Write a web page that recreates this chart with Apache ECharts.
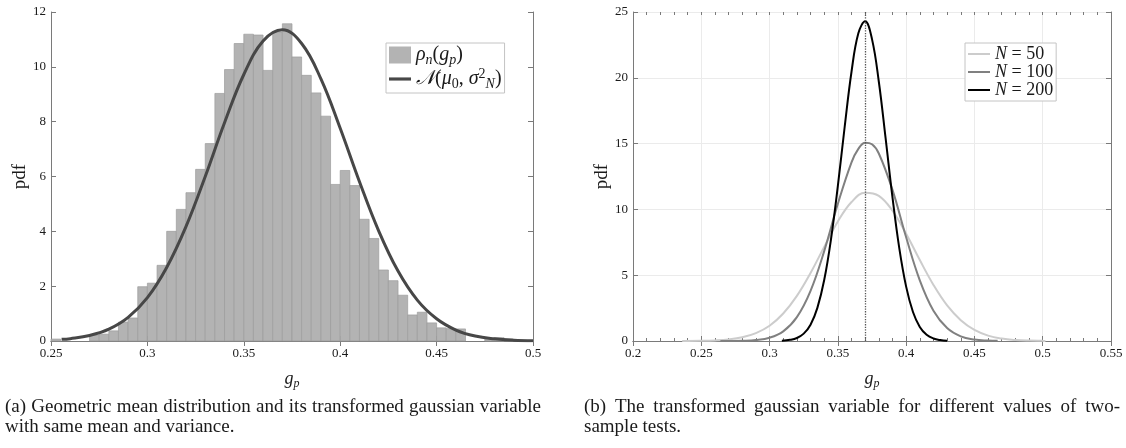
<!DOCTYPE html>
<html>
<head>
<meta charset="utf-8">
<script src="https://cdn.jsdelivr.net/npm/echarts@6/dist/echarts.min.js"></script>
<style>
html, body { margin: 0; padding: 0; background: #fff; }
#main { width: 1126px; height: 448px; }
</style>
</head>
<body>
<div id="main"></div>
<script>
var dom = document.getElementById("main");
var myChart = echarts.init(dom);

// (a) histogram: left edge of each bin and its height
var binWidth = 0.005;
var binStart = [0.250,0.255,0.260,0.265,0.270,0.275,0.280,0.285,0.290,0.295,
                0.300,0.305,0.310,0.315,0.320,0.325,0.330,0.335,0.340,0.345,
                0.350,0.355,0.360,0.365,0.370,0.375,0.380,0.385,0.390,0.395,
                0.400,0.405,0.410,0.415,0.420,0.425,0.430,0.435,0.440,0.445,
                0.450,0.455,0.460,0.465,0.470,0.475,0.480];
var binHeight = [0.07,0,0,0,0.22,0.25,0.37,0.69,0.84,1.98,
                 2.11,2.76,4.00,4.80,5.41,6.26,7.20,9.03,9.90,10.85,
                 11.19,11.16,9.87,11.27,11.57,10.36,9.69,9.05,8.20,5.71,
                 6.22,5.67,4.44,3.74,2.59,2.20,1.67,0.95,1.05,0.66,
                 0.48,0.45,0.44,0,0,0.10,0.12];

// (a) fitted gaussian curve
var gaussX = [0.2555,0.26,0.27,0.28,0.29,0.30,0.31,0.32,0.33,0.34,0.35,0.36,0.37,
              0.38,0.39,0.40,0.41,0.42,0.43,0.44,0.45,0.46,0.47,0.48,0.49,0.50];
var gaussY = [0.06,0.085,0.20,0.43,0.86,1.58,2.68,4.17,6.00,7.96,9.72,10.94,11.35,
              10.85,9.56,7.76,5.81,4.01,2.55,1.49,0.81,0.40,0.18,0.08,0.03,0.01];

// (b) curves for N = 50, 100, 200
var n50X = [0.236,0.25,0.26,0.27,0.28,0.29,0.30,0.31,0.32,0.33,0.34,0.35,0.36,0.37,
            0.38,0.39,0.40,0.41,0.42,0.43,0.44,0.45,0.46,0.47,0.48,0.49,0.50,0.502];
var n50Y = [0.004,0.017,0.047,0.12,0.28,0.60,1.16,2.09,3.43,5.17,7.15,9.08,10.56,11.27,
            11.03,9.90,8.15,6.15,4.26,2.70,1.58,0.84,0.41,0.185,0.076,0.029,0.01,0.008];
var n100X = [0.264,0.27,0.28,0.29,0.30,0.31,0.32,0.33,0.34,0.35,0.36,0.365,0.37,0.375,
             0.38,0.39,0.40,0.41,0.42,0.43,0.44,0.45,0.46,0.467];
var n100Y = [0.001,0.004,0.019,0.074,0.25,0.73,1.81,3.81,6.83,10.43,13.58,14.6,15.07,14.95,
             14.25,11.48,7.88,4.61,2.30,0.98,0.35,0.11,0.03,0.01];
var n200X = [0.309,0.315,0.32,0.325,0.33,0.335,0.34,0.345,0.35,0.355,0.36,0.365,0.37,
             0.375,0.38,0.385,0.39,0.395,0.40,0.405,0.41,0.415,0.42,0.425,0.43];
var n200Y = [0.02,0.09,0.23,0.56,1.24,2.52,4.63,7.75,11.78,16.28,20.46,23.38,24.29,
             22.94,19.70,15.37,10.91,7.04,4.13,2.20,1.07,0.47,0.19,0.07,0.02];
var meanLine = 0.366;

var captionA = ['(a) Geometric mean distribution and its transformed gaussian variable',
                'with same mean and variance.'];
var captionB = ['(b) The transformed gaussian variable for different values of two-',
                'sample tests.'];

////////////////////////////////////////

var FONT = '"Liberation Serif", "DejaVu Serif", serif';
var AXIS_COLOR = '#7a7a7a';
var TEXT_COLOR = '#1a1a1a';

function zip(xs, ys) {
    return xs.map(function (x, i) { return [x, ys[i]]; });
}

// rich text styles for math-like labels
function makeRich(size, lineHeight) {
    var small = Math.round(size * 0.68);
    return {
        i: { fontFamily: FONT, fontStyle: 'italic', fontSize: size, color: TEXT_COLOR, lineHeight: lineHeight },
        r: { fontFamily: FONT, fontSize: size, color: TEXT_COLOR, lineHeight: lineHeight },
        sub: { fontFamily: FONT, fontStyle: 'italic', fontSize: small, color: TEXT_COLOR, lineHeight: small, verticalAlign: 'bottom' },
        subr: { fontFamily: FONT, fontSize: small, color: TEXT_COLOR, lineHeight: small, verticalAlign: 'bottom' },
        sup: { fontFamily: FONT, fontSize: small, color: TEXT_COLOR, lineHeight: small, verticalAlign: 'top' }
    };
}
var richAxis = makeRich(18, 22);
var richA = makeRich(20, 24);
var richB = makeRich(18, 19);

var legendText = {
    hist: '{i|ρ}{sub|n}{r|(}{i|g}{sub|p}{r|)}',
    gauss: '{i|𝒩}{r|(}{i|μ}{subr|0}{r|, }{i|σ}{sup|2}{sub|N}{r|)}',
    N50: '{i|N}{r| = 50}',
    N100: '{i|N}{r| = 100}',
    N200: '{i|N}{r| = 200}'
};

var tickStyle = { show: true, inside: true, length: 5, lineStyle: { color: AXIS_COLOR } };

// bottom axis with labels + top mirror axis (box look)
function xAxisPair(grid, min, max, split) {
    var base = {
        gridIndex: grid,
        type: 'value',
        min: min,
        max: max,
        interval: 0.05,
        axisLine: { show: true, lineStyle: { color: AXIS_COLOR, width: 1 } },
        axisTick: tickStyle,
        splitLine: { show: split, lineStyle: { color: '#ebebeb' } }
    };
    var bottom = echarts.util.merge({
        position: 'bottom',
        axisLabel: { color: TEXT_COLOR, fontFamily: FONT, fontSize: 13, margin: 6 },
        name: '{i|g}{sub|p}',
        nameLocation: 'middle',
        nameGap: 27,
        nameTextStyle: { rich: richAxis }
    }, base, false);
    var top = echarts.util.merge({
        position: 'top',
        axisLabel: { show: false },
        splitLine: { show: false }
    }, base, false);
    return [bottom, top];
}

// small ticks every 0.01, drawn only as inward ticks
function minorXAxis(grid, min, max, position) {
    return {
        gridIndex: grid,
        type: 'value',
        position: position,
        offset: 0,
        min: min,
        max: max,
        interval: 0.01,
        axisLine: { show: false },
        axisTick: { show: true, inside: true, length: 3, lineStyle: { color: AXIS_COLOR } },
        axisLabel: { show: false },
        splitLine: { show: false }
    };
}

function yAxisPair(grid, max, interval, split) {
    var base = {
        gridIndex: grid,
        type: 'value',
        min: 0,
        max: max,
        interval: interval,
        axisLine: { show: true, lineStyle: { color: AXIS_COLOR, width: 1 } },
        axisTick: tickStyle,
        splitLine: { show: split, lineStyle: { color: '#ebebeb' } }
    };
    var left = echarts.util.merge({
        position: 'left',
        axisLabel: { color: TEXT_COLOR, fontFamily: FONT, fontSize: 13, margin: 5 },
        name: 'pdf',
        nameLocation: 'middle',
        nameRotate: 90,
        nameGap: 19,
        nameTextStyle: { color: TEXT_COLOR, fontFamily: FONT, fontSize: 19 }
    }, base, false);
    var right = echarts.util.merge({
        position: 'right',
        axisLabel: { show: false },
        splitLine: { show: false }
    }, base, false);
    return [left, right];
}

var xA = xAxisPair(0, 0.25, 0.5, false);
var xB = xAxisPair(1, 0.2, 0.55, true);
var yA = yAxisPair(0, 12, 2, false);
var yB = yAxisPair(1, 25, 5, true);

function legendBox(names, left, itemWidth, itemHeight, rich) {
    return {
        data: names,
        orient: 'vertical',
        left: left,
        top: 43,
        itemWidth: itemWidth,
        itemHeight: itemHeight,
        itemGap: 0,
        padding: [2, 3, 2, 3],
        borderColor: '#c4c4c4',
        borderWidth: 1,
        borderRadius: 0,
        backgroundColor: '#fff',
        selectedMode: false,
        textStyle: { rich: rich },
        formatter: function (name) { return legendText[name]; }
    };
}

// captions: first lines are justified to the column width, like the paper
var CAPTION_FONT = '19px ' + FONT;
var COLUMN_WIDTH = 536;
var measureCtx = document.createElement('canvas').getContext('2d');
measureCtx.font = CAPTION_FONT;

function captionLine(text, x, y, justify) {
    var style = { font: CAPTION_FONT, fill: TEXT_COLOR, verticalAlign: 'top' };
    if (!justify) {
        return [{ type: 'text', x: x, y: y, style: echarts.util.extend({ text: text }, style) }];
    }
    var words = text.split(' ');
    var widths = words.map(function (w) { return measureCtx.measureText(w).width; });
    var total = widths.reduce(function (a, b) { return a + b; }, 0);
    var gap = (COLUMN_WIDTH - total) / (words.length - 1);
    var out = [];
    var cx = x;
    words.forEach(function (w, i) {
        out.push({ type: 'text', x: cx, y: y, style: echarts.util.extend({ text: w }, style) });
        cx += widths[i] + gap;
    });
    return out;
}

var captions = [].concat(
    captionLine(captionA[0], 5, 398, true),
    captionLine(captionA[1], 5, 418, false),
    captionLine(captionB[0], 584, 398, true),
    captionLine(captionB[1], 584, 418, false)
);

var option = {
    animation: false,
    backgroundColor: '#fff',
    grid: [
        { left: 51, right: 593, top: 12, bottom: 107 },
        { left: 633, right: 15, top: 12, bottom: 107 }
    ],
    xAxis: [xA[0], xA[1], xB[0], xB[1],
            minorXAxis(1, 0.2, 0.55, 'bottom'), minorXAxis(1, 0.2, 0.55, 'top')],
    yAxis: [yA[0], yA[1], yB[0], yB[1]],
    legend: [
        legendBox([{ name: 'hist', icon: 'rect' },
                   { name: 'gauss', icon: 'path://M0,0H70V10H0Z' }], 386, 22, 17, richA),
        legendBox([{ name: 'N50', icon: 'path://M0,0H110V10H0Z' },
                   { name: 'N100', icon: 'path://M0,0H110V10H0Z' },
                   { name: 'N200', icon: 'path://M0,0H110V10H0Z' }], 965, 22, 14, richB)
    ],
    graphic: captions,
    series: [
        {
            name: 'hist',
            type: 'custom',
            xAxisIndex: 0,
            yAxisIndex: 0,
            itemStyle: { color: '#b3b3b3' },
            encode: { x: 0, y: 1 },
            data: zip(binStart, binHeight),
            renderItem: function (params, api) {
                var x0 = api.value(0);
                var h = api.value(1);
                var p0 = api.coord([x0, h]);
                var p1 = api.coord([x0 + binWidth, 0]);
                return {
                    type: 'rect',
                    shape: { x: p0[0], y: p0[1], width: p1[0] - p0[0], height: p1[1] - p0[1] },
                    style: { fill: '#b3b3b3', stroke: h > 0 ? '#9c9c9c' : null, lineWidth: 0.7 }
                };
            }
        },
        {
            name: 'gauss',
            type: 'line',
            xAxisIndex: 0,
            yAxisIndex: 0,
            symbol: 'none',
            smooth: 0.4,
            z: 3,
            itemStyle: { color: '#474747' },
            lineStyle: { color: '#474747', width: 3 },
            data: zip(gaussX, gaussY)
        },
        {
            name: 'N50',
            type: 'line',
            xAxisIndex: 2,
            yAxisIndex: 2,
            symbol: 'none',
            smooth: 0.4,
            itemStyle: { color: '#cccccc' },
            lineStyle: { color: '#cccccc', width: 2 },
            data: zip(n50X, n50Y)
        },
        {
            name: 'N100',
            type: 'line',
            xAxisIndex: 2,
            yAxisIndex: 2,
            symbol: 'none',
            smooth: 0.4,
            itemStyle: { color: '#808080' },
            lineStyle: { color: '#808080', width: 2 },
            data: zip(n100X, n100Y)
        },
        {
            name: 'N200',
            type: 'line',
            xAxisIndex: 2,
            yAxisIndex: 2,
            symbol: 'none',
            smooth: 0.4,
            itemStyle: { color: '#000000' },
            lineStyle: { color: '#000000', width: 2 },
            data: zip(n200X, n200Y),
            markLine: {
                silent: true,
                symbol: ['none', 'none'],
                label: { show: false },
                lineStyle: { type: 'dotted', color: '#555555', width: 1.3 },
                data: [{ xAxis: meanLine }]
            }
        }
    ]
};

myChart.setOption(option, true);
window.addEventListener("resize", function () {
    myChart.resize();
});
</script>
</body>
</html>
